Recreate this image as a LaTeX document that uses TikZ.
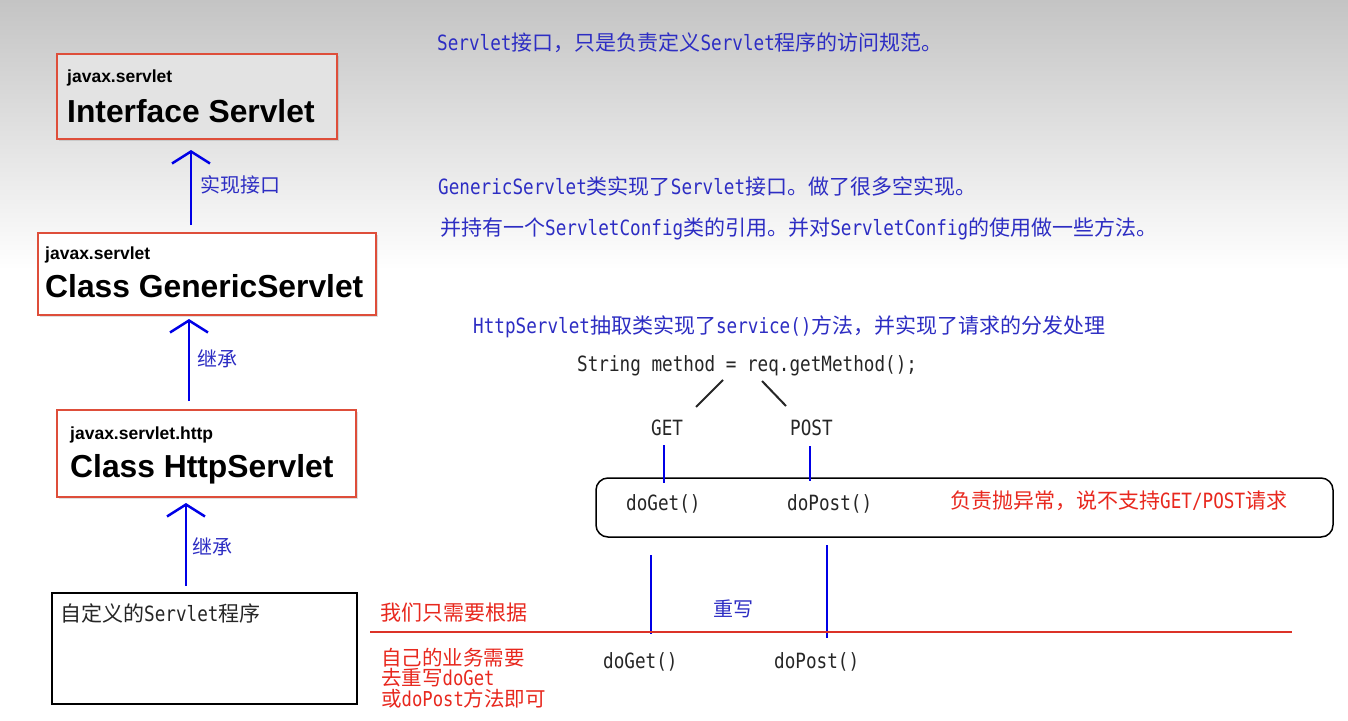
\documentclass[tikz,border=0pt]{standalone}
\usepackage{fontspec}
\setmainfont{Noto Sans CJK SC}
\newfontfamily\latf[FakeStretch=0.84]{DejaVu Sans Mono}
\newfontfamily\arialf{Liberation Sans}
\newcommand\ltn[1]{{\latf #1}}
\usetikzlibrary{arrows.meta,shadows}
\definecolor{tblue}{RGB}{45,45,195}
\definecolor{ablue}{RGB}{0,0,230}
\definecolor{tred}{RGB}{232,40,30}
\definecolor{lred}{RGB}{220,50,40}
\definecolor{bred}{RGB}{222,78,58}
\definecolor{bgtop}{RGB}{196,196,196}
\begin{document}
\begin{tikzpicture}[x=1pt,y=-1pt,
  cn/.style={font=\fontsize{21}{21}\selectfont, inner sep=0pt, anchor=west},
  bluet/.style={cn, text=tblue},
  redt/.style={cn, text=tred},
  blackt/.style={cn, text=black!85},
  lbl/.style={font=\fontsize{20}{20}\selectfont, inner sep=0pt, anchor=west, text=tblue},
  redbox/.style={draw=bred, line width=2pt, fill=white, inner sep=0pt,
    drop shadow={shadow xshift=2pt, shadow yshift=-2pt, opacity=0.25, fill=gray}},
  pkg/.style={font=\arialf\bfseries\fontsize{17.5}{17.5}\selectfont, anchor=base west, inner sep=0pt},
  cls/.style={font=\arialf\bfseries\fontsize{31.8}{31.8}\selectfont, anchor=base west, inner sep=0pt},
  barrow/.style={draw=ablue, line width=2.5pt, -{Straight Barb[length=12pt,width=38pt]}},
  bline/.style={draw=ablue, line width=2.5pt},
  thinb/.style={draw=ablue, line width=1.2pt},
]
\useasboundingbox (0,0) rectangle (1348,720);
\fill[white] (0,0) rectangle (1348,720);
\shade[top color=bgtop, bottom color=white] (0,0) rectangle (1348,270);

% left column boxes
\node[redbox, fill=black!11, minimum width=280pt, minimum height=85pt] (b1) at (197,96.5) {};
\node[pkg] (b1p) at (67,82) {javax.servlet};
\node[cls] (b1c) at (67,122) {Interface Servlet};

\node[redbox, minimum width=338pt, minimum height=82pt] (b2) at (207,274) {};
\node[pkg] (b2p) at (45,259) {javax.servlet};
\node[cls] (b2c) at (45,297) {Class GenericServlet};

\node[redbox, minimum width=299pt, minimum height=87pt] (b3) at (206.5,453.5) {};
\node[pkg] (b3p) at (70,439) {javax.servlet.http};
\node[cls] (b3c) at (70,477) {Class HttpServlet};

\node[draw=black, line width=2.5pt, fill=white, minimum width=305pt, minimum height=111pt] (b4) at (204.5,648.5) {};
\node[blackt] (b4t) at (60,613) {自定义的\ltn{Servlet}程序};

% arrows
\draw[barrow, shorten <=7pt, shorten >=10pt] (b2.north -| 191,0) -- (b1.south -| 191,0);
\draw[barrow, shorten <=8pt, shorten >=3pt] (b3.north -| 189,0) -- (b2.south -| 189,0);
\draw[barrow, shorten <=6pt, shorten >=5pt] (b4.north -| 186,0) -- (b3.south -| 186,0);
\node[lbl] (l1) at (200,185) {实现接口};
\node[lbl] (l2) at (197,359) {继承};
\node[lbl] (l3) at (192,547) {继承};

% right texts
\node[bluet] (t1) at (437,43) {\ltn{Servlet}接口，只是负责定义\ltn{Servlet}程序的访问规范。};
\node[bluet] (t2) at (438,186) {\ltn{GenericServlet}类实现了\ltn{Servlet}接口。做了很多空实现。};
\node[bluet] (t3) at (440,229) {并持有一个\ltn{ServletConfig}类的引用。并对\ltn{ServletConfig}的使用做一些方法。};
\node[bluet] (t4) at (473,327) {\ltn{HttpServlet}抽取类实现了\ltn{service()}方法，并实现了请求的分发处理};
\node[blackt] (t5) at (577,366) {\ltn{String method = req.getMethod();}};

\coordinate (d1a) at (723,380); \coordinate (d1b) at (696,407);
\coordinate (d2a) at (762,381); \coordinate (d2b) at (786,406);
\draw[line width=2pt, black!85] (d1a) -- (d1b);
\draw[line width=2pt, black!85] (d2a) -- (d2b);

\node[blackt] (get) at (651,428) {\ltn{GET}};
\node[blackt] (post) at (790,428) {\ltn{POST}};

\node[draw=black, line width=1.5pt, rounded corners=12pt, minimum width=737pt, minimum height=59pt] (rr) at (964.5,507.5) {};
\coordinate (g1) at (664,445); \coordinate (g2) at (664,483);
\coordinate (p1) at (810,446); \coordinate (p2) at (810,481);
\draw[bline] (g1) -- (g2);
\draw[bline] (p1) -- (p2);

\node[blackt] (dg1) at (626,504) {\ltn{doGet()}};
\node[blackt] (dp1) at (787,504) {\ltn{doPost()}};
\node[redt] (ex) at (950,501) {负责抛异常，说不支持\ltn{GET/POST}请求};

\coordinate (v1a) at (651,555); \coordinate (v1b) at (651,634);
\coordinate (v2a) at (827,545); \coordinate (v2b) at (827,638);
\draw[thinb] (v1a) -- (v1b);
\draw[thinb] (v2a) -- (v2b);
\node[lbl] (cw) at (713,609) {重写};

\coordinate (ra) at (370,632); \coordinate (rb) at (1292,632);
\draw[draw=lred, line width=1.5pt] (ra) -- (rb);

\node[redt] (r0) at (380,613) {我们只需要根据};
\node[redt, align=left, font=\fontsize{20.5}{20.5}\selectfont] (r1) at (381,678) {自己的业务需要\\去重写\ltn{doGet}\\或\ltn{doPost}方法即可};

\node[blackt] (dg2) at (603,662) {\ltn{doGet()}};
\node[blackt] (dp2) at (774,662) {\ltn{doPost()}};
\end{tikzpicture}
\end{document}
